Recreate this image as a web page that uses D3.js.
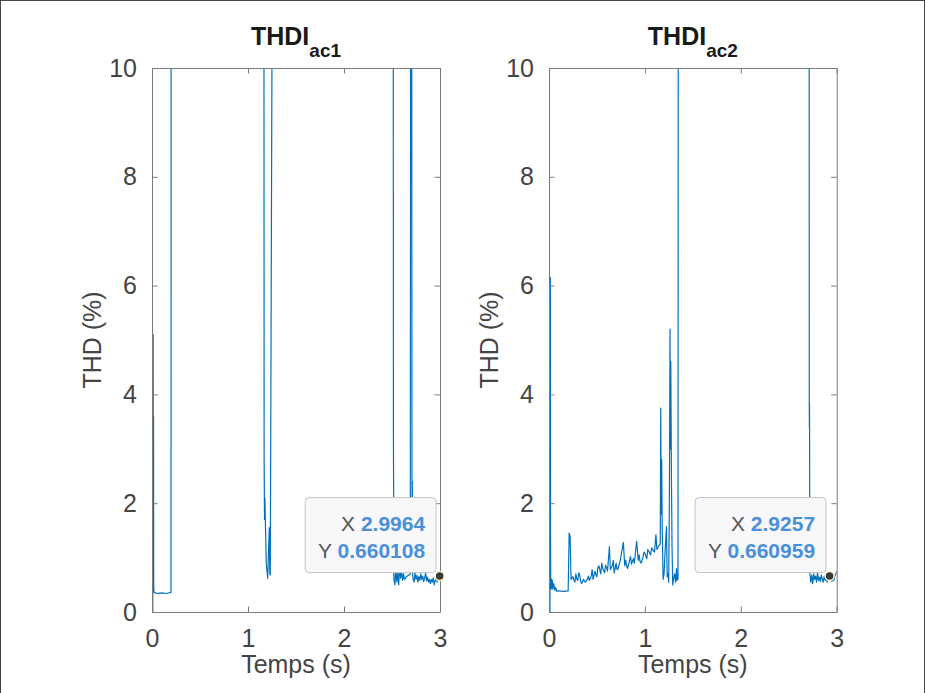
<!DOCTYPE html>
<html>
<head>
<meta charset="utf-8">
<script src="https://cdn.jsdelivr.net/npm/d3@7"></script>
<style>
body { margin: 0; background: #fff; }
svg { font-family: "Liberation Sans", Arial, sans-serif; }
.axis path, .axis line { stroke: #7a7a7a; }
.axis text { fill: #444; font-size: 25px; }
</style>
</head>
<body>
<svg id="chart"></svg>
<script>
// THDI ac1 : temps (s) / THD (%)  (valeurs > 10 hors cadre)
var t1 = [0.008, 0.012, 0.014, 0.016, 0.018, 0.022, 0.05, 0.1, 0.15, 0.198, 0.199,
          1.166, 1.168, 1.172, 1.176, 1.18, 1.19, 1.205, 1.215, 1.222, 1.227, 1.232, 1.253,
          2.513, 2.515, 2.52, 2.53, 2.54, 2.55, 2.56, 2.57, 2.58, 2.59, 2.6, 2.61, 2.62, 2.63, 2.65, 2.69,
          2.695, 2.705, 2.708, 2.71, 2.712, 2.715, 2.72,
          2.73, 2.74, 2.75, 2.76, 2.77, 2.78, 2.79, 2.8, 2.81, 2.82, 2.83, 2.84, 2.85, 2.86, 2.87,
          2.88, 2.89, 2.9, 2.91, 2.92, 2.93, 2.94, 2.95, 2.96, 2.97, 2.98, 2.9964];
var v1 = [0, 5.1, 0.9, 3.6, 0.45, 0.36, 0.34, 0.35, 0.34, 0.36, 12,
          12, 2.8, 1.7, 2.1, 1.75, 0.9, 0.62, 1.2, 1.55, 0.7, 0.68, 12,
          12, 3.2, 0.6, 0.5, 0.8, 0.55, 0.72, 0.5, 0.85, 0.62, 0.75, 0.58, 0.7, 0.6, 0.65, 0.7,
          12, 12, 2.65, 1.3, 2.4, 0.7, 0.6,
          0.55, 0.72, 0.6, 0.68, 0.55, 0.65, 0.58, 0.7, 0.6, 0.66, 0.56, 0.62, 0.72, 0.57, 0.64,
          0.55, 0.6, 0.52, 0.6, 0.55, 0.63, 0.5, 0.58, 0.62, 0.55, 0.6, 0.660108];

// THDI ac2
var t2 = [0.01, 0.014, 0.016, 0.018, 0.02, 0.023, 0.026, 0.03, 0.035, 0.04, 0.05, 0.06, 0.07, 0.08, 0.1, 0.15, 0.2,
          0.21, 0.22, 0.23, 0.25, 0.26, 0.27, 0.28, 0.29, 0.3, 0.31, 0.32, 0.33, 0.34, 0.36, 0.37, 0.38, 0.4, 0.41, 0.42,
          0.44, 0.45, 0.46, 0.48, 0.49, 0.5, 0.51, 0.52, 0.54, 0.55, 0.56, 0.58, 0.59, 0.6, 0.61, 0.63, 0.64, 0.66,
          0.67, 0.68, 0.7, 0.71, 0.72, 0.74, 0.775, 0.79, 0.8, 0.81, 0.82, 0.84, 0.85, 0.86, 0.88, 0.89, 0.914,
          0.93, 0.94, 0.95, 0.96, 0.98, 0.99, 1.0, 1.02, 1.03, 1.04, 1.06, 1.07, 1.08, 1.1, 1.115, 1.125,
          1.14, 1.16, 1.165, 1.17, 1.175, 1.18, 1.19, 1.2, 1.21, 1.225, 1.232, 1.24, 1.248, 1.255,
          1.262, 1.266, 1.27, 1.277, 1.283, 1.29, 1.3, 1.31, 1.32, 1.33, 1.335, 1.34, 1.345, 1.348,
          2.713, 2.714, 2.715, 2.716, 2.717, 2.718, 2.72, 2.73, 2.74, 2.75, 2.76, 2.77, 2.78, 2.79,
          2.8, 2.81, 2.82, 2.83, 2.84, 2.85, 2.86, 2.87, 2.88, 2.89, 2.9, 2.91, 2.9257,
          2.94, 2.95, 2.96, 2.97, 2.98, 2.99, 3.0];
var v2 = [0, 6.15, 1.3, 0.5, 0.62, 0.42, 0.6, 0.45, 0.58, 0.42, 0.52, 0.4, 0.45, 0.38, 0.39, 0.38, 0.39,
          1.45, 1.4, 0.6, 0.65, 0.58, 0.55, 0.7, 0.6, 0.58, 0.72, 0.68, 0.57, 0.52, 0.6, 0.56, 0.55, 0.6, 0.66, 0.58,
          0.66, 0.78, 0.6, 0.75, 0.68, 0.65, 0.82, 0.85, 0.7, 0.9, 0.8, 0.72, 0.86, 0.82, 0.75, 1.2, 0.78, 0.85,
          0.95, 0.72, 0.9, 0.78, 0.8, 0.92, 1.28, 0.85, 0.95, 0.84, 0.8, 0.95, 1.02, 0.88, 0.98, 0.9, 1.3,
          0.95, 1.05, 0.92, 0.9, 1.0, 1.1, 1.08, 0.98, 1.15, 1.12, 1.05, 1.18, 1.15, 1.1, 1.42, 1.15,
          1.2, 1.25, 3.75, 1.8, 2.8, 1.6, 0.6, 0.7, 1.1, 1.57, 0.65, 0.7, 0.55, 2.0,
          5.2, 3.0, 4.6, 2.4, 1.2, 0.5, 0.62, 0.7, 0.55, 0.8, 0.58, 0.62, 0.6, 12,
          12, 3.9, 3.4, 3.85, 3.45, 2.4, 0.72, 0.55, 0.68, 0.52, 0.7, 0.6, 0.66, 0.55,
          0.72, 0.58, 0.64, 0.56, 0.68, 0.6, 0.55, 0.66, 0.58, 0.62, 0.55, 0.65, 0.660959,
          0.6, 0.56, 0.63, 0.58, 0.66, 0.7, 0.75];

var titles = ["ac1", "ac2"];
var xTicks = [0, 1, 2, 3];
var yTicks = [0, 2, 4, 6, 8, 10];
var tipX = [2.9964, 2.9257];
var tipY = [0.660108, 0.660959];
var tipXText = ["2.9964", "2.9257"];
var tipYText = ["0.660108", "0.660959"];

var width = 926;
var height = 693;
var svg = d3.select("#chart")
	.attr("width", width)
	.attr("height", height);

svg.append("rect")
	.attr("x", 0.5)
	.attr("y", 0.5)
	.attr("width", 924)
	.attr("height", 710)
	.attr("fill", "none")
	.attr("stroke", "#444");

var panels = [
	{ left: 152, right: 440, t: t1, v: v1 },
	{ left: 549, right: 836.7, t: t2, v: v2 }
];
var yTop = 68, yBottom = 612;
var fmt = d3.format("d");

var y = d3.scaleLinear().domain([0, 10]).range([yBottom, yTop]);

for (let p = 0; p < 2; p++) {
	var P = panels[p];
	var x = d3.scaleLinear().domain([0, 3]).range([P.left, P.right]);
	var g = svg.append("g");

	// clip des courbes au cadre
	g.append("clipPath")
		.attr("id", "clip" + p)
		.append("rect")
		.attr("x", P.left)
		.attr("y", yTop)
		.attr("width", P.right - P.left)
		.attr("height", yBottom - yTop);

	var pts = P.t.map(function (d, i) { return [d, P.v[i]]; });
	var line = d3.line()
		.x(function (d) { return x(d[0]); })
		.y(function (d) { return y(d[1]); });
	g.append("path")
		.datum(pts)
		.attr("clip-path", "url(#clip" + p + ")")
		.attr("d", line)
		.attr("fill", "none")
		.attr("stroke", "#0072BD")
		.attr("stroke-width", 1.2)
		.attr("stroke-linejoin", "round");

	// axes (boîte)
	g.append("g").attr("class", "axis")
		.attr("transform", "translate(0," + yBottom + ")")
		.call(d3.axisBottom(x).tickValues(xTicks).tickSize(-5.5).tickPadding(17).tickSizeOuter(0).tickFormat(fmt));
	g.append("g").attr("class", "axis")
		.attr("transform", "translate(0," + yTop + ")")
		.call(d3.axisTop(x).tickValues(xTicks).tickSize(-5.5).tickSizeOuter(0).tickFormat(""));
	g.append("g").attr("class", "axis")
		.attr("transform", "translate(" + P.left + ",0)")
		.call(d3.axisLeft(y).tickValues(yTicks).tickSize(-5.5).tickPadding(15).tickSizeOuter(0).tickFormat(fmt));
	g.append("g").attr("class", "axis")
		.attr("transform", "translate(" + P.right + ",0)")
		.call(d3.axisRight(y).tickValues(yTicks).tickSize(-5.5).tickSizeOuter(0).tickFormat(""));

	var cx = (P.left + P.right) / 2;
	var title = g.append("text")
		.attr("x", cx)
		.attr("y", 45)
		.attr("text-anchor", "middle")
		.attr("font-weight", "bold")
		.attr("font-size", "25px")
		.attr("fill", "#1a1a1a");
	title.append("tspan").text("THDI");
	title.append("tspan").attr("font-size", "19px").attr("dy", 12).text(titles[p]);

	g.append("text")
		.attr("x", cx)
		.attr("y", 673)
		.attr("text-anchor", "middle")
		.attr("font-size", "25px")
		.attr("fill", "#444")
		.text("Temps (s)");

	g.append("text")
		.attr("transform", "translate(" + (P.left - 51) + "," + ((yTop + yBottom) / 2) + ") rotate(-90)")
		.attr("text-anchor", "middle")
		.attr("font-size", "25px")
		.attr("fill", "#444")
		.text("THD (%)");

	// datatip
	var mx = x(tipX[p]), my = y(tipY[p]);
	var bw = 131, bh = 75;
	var bx = mx - 3.5 - bw, by = my - 3.5 - bh;
	g.append("rect")
		.attr("x", bx)
		.attr("y", by)
		.attr("width", bw)
		.attr("height", bh)
		.attr("rx", 4)
		.attr("fill", "#f8f8fa")
		.attr("stroke", "#c4c4c4");
	var l1 = g.append("text")
		.attr("x", bx + bw - 11)
		.attr("y", by + 33)
		.attr("text-anchor", "end")
		.attr("font-size", "21px");
	l1.append("tspan").attr("fill", "#555").text("X ");
	l1.append("tspan").attr("fill", "#4a90d9").attr("font-weight", "bold").text(tipXText[p]);
	var l2 = g.append("text")
		.attr("x", bx + bw - 11)
		.attr("y", by + 60)
		.attr("text-anchor", "end")
		.attr("font-size", "21px");
	l2.append("tspan").attr("fill", "#555").text("Y ");
	l2.append("tspan").attr("fill", "#4a90d9").attr("font-weight", "bold").text(tipYText[p]);

	g.append("circle")
		.attr("cx", mx)
		.attr("cy", my)
		.attr("r", 4.5)
		.attr("fill", "#3a3a3a")
		.attr("stroke", "#fff6c8")
		.attr("stroke-width", 1.5);
}
</script>
</body>
</html>
